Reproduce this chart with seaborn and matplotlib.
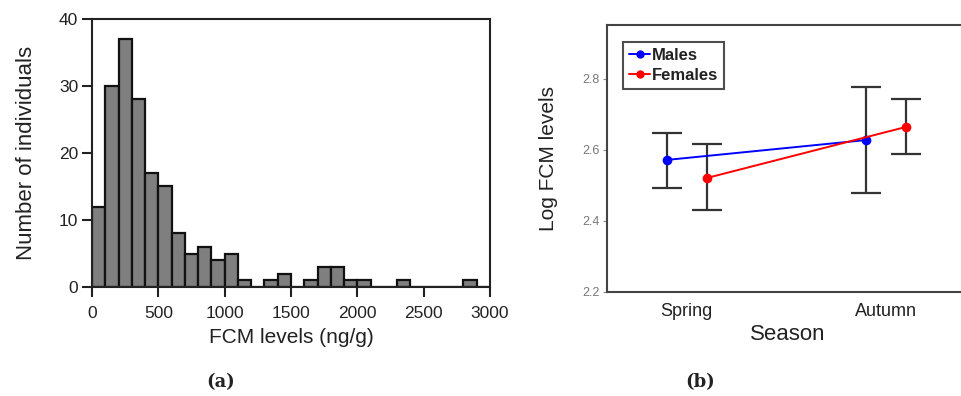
import matplotlib
matplotlib.use("Agg")
import matplotlib.pyplot as plt
from matplotlib.lines import Line2D
import numpy as np
import pandas as pd
import seaborn as sns

# histogram (a): counts per 100 ng/g bin
bin_starts = list(range(0, 3000, 100))
counts = [12, 30, 37, 28, 17, 15, 8, 5, 6, 4, 5, 1, 0, 1, 2, 0, 1, 3, 3, 1,
          1, 0, 0, 1, 0, 0, 0, 0, 1, 0]

# means +- error (b)
seasons = ["Spring", "Spring", "Autumn", "Autumn"]
sexes = ["Males", "Females", "Males", "Females"]
means = [2.572, 2.521, 2.628, 2.665]
lower = [2.493, 2.431, 2.479, 2.589]
upper = [2.648, 2.617, 2.777, 2.743]

sns.set_theme(style="white")
plt.rcParams['font.family'] = ['Liberation Sans', 'DejaVu Sans']

W, H = 962, 396
fig = plt.figure(figsize=(W / 100, H / 100), dpi=100)

def box(l, t, r, b):
    return [l / W, 1 - b / H, (r - l) / W, (b - t) / H]

# ---- (a) histogram
ax1 = fig.add_axes(box(92, 19, 490, 287))
hist = pd.DataFrame({"x": [s + 50 for s in bin_starts], "n": counts})
sns.histplot(data=hist, x="x", weights="n", binwidth=100, binrange=(0, 3000),
             color="#7f7f7f", edgecolor="#111111", linewidth=1.6, alpha=1, ax=ax1)
ax1.set_xlim(0, 3000)
ax1.set_ylim(0, 40)
ax1.set_xticks(range(0, 3001, 500))
ax1.set_yticks(range(0, 41, 10))
for s in ax1.spines.values():
    s.set_color("#222222")
    s.set_linewidth(1.5)
ax1.tick_params(axis="both", direction="out", length=7, width=1.5, color="#222222",
                labelsize=12.5, labelcolor="#222222", bottom=True, left=True, pad=3)
ax1.tick_params(axis="x", pad=7)
ax1.set_xlabel("FCM levels (ng/g)", fontsize=15, color="#222222", labelpad=5)
ax1.set_ylabel("Number of individuals", fontsize=16, color="#222222", labelpad=16)

# ---- (b) means with error bars
ax2 = fig.add_axes(box(607, 25, 968, 292))
pts = pd.DataFrame({"season": seasons, "sex": sexes, "mean": means,
                    "lo": lower, "hi": upper})
season_pos = {"Spring": 0.0, "Autumn": 1.0}
dodge = {"Males": -0.1, "Females": 0.1}
pts["x"] = pts["season"].map(season_pos) + pts["sex"].map(dodge)
palette = {"Males": "#0000ff", "Females": "#ff0000"}

ax2.errorbar(pts["x"], pts["mean"],
             yerr=[pts["mean"] - pts["lo"], pts["hi"] - pts["mean"]],
             fmt="none", ecolor="#333333", elinewidth=1.6, capsize=11, capthick=1.6,
             zorder=2)
sns.lineplot(data=pts, x="x", y="mean", hue="sex", palette=palette, marker="o",
             markersize=7, markeredgewidth=0, linewidth=1.4, legend=False,
             ax=ax2, zorder=3)

ax2.set_xlim(-0.40, 1.41)
ax2.set_ylim(2.2, 2.952)
ax2.set_xticks([0, 1], ["Spring", "Autumn"])
ax2.set_yticks([2.2, 2.4, 2.6, 2.8])
ax2.tick_params(axis="x", length=0, labelsize=13, labelcolor="#222222", pad=8)
ax2.tick_params(axis="y", left=True, length=3, width=0.8, color="#888888",
                labelsize=9, labelcolor="#777777", pad=2)
for s in ax2.spines.values():
    s.set_color("#444444")
    s.set_linewidth(1.5)
ax2.set_xlabel("Season", fontsize=16, color="#222222", labelpad=3)
ax2.set_ylabel("Log FCM levels", fontsize=15, color="#222222", labelpad=18)

handles = [Line2D([], [], color=palette[k], marker="o", markersize=6,
                  markeredgewidth=0, linewidth=1.4, label=k) for k in ["Males", "Females"]]
leg = ax2.legend(handles=handles, loc="upper left", bbox_to_anchor=(0.044, 0.936),
                 borderaxespad=0, frameon=True, fancybox=False, edgecolor="#222222",
                 handlelength=1.3, handletextpad=0.1, borderpad=0.35, labelspacing=0.3,
                 prop={"size": 12, "weight": "bold"})
leg.get_frame().set_linewidth(1.5)
for t in leg.get_texts():
    t.set_color("#222222")

# panel letters
fig.text(221 / W, 1 - 382 / H, "(a)", ha="center", va="center", fontsize=13,
         family="DejaVu Serif", fontweight="bold", color="#222222")
fig.text(700 / W, 1 - 382 / H, "(b)", ha="center", va="center", fontsize=13,
         family="DejaVu Serif", fontweight="bold", color="#222222")

fig.savefig("out.png", dpi=100)
